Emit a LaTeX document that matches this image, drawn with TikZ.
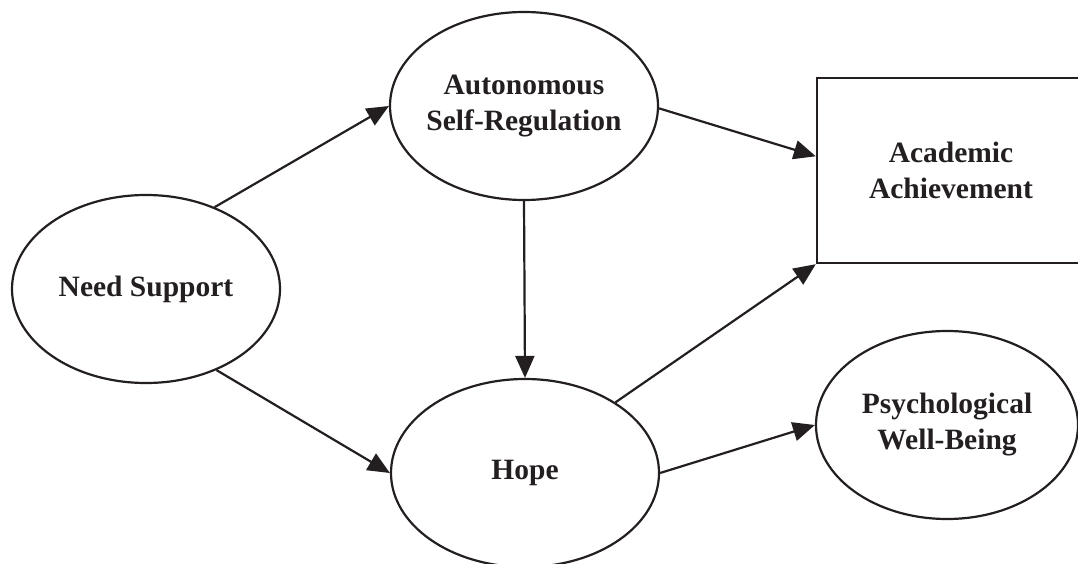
\documentclass[tikz,border=0pt]{standalone}
\usepackage{fontspec}
\setmainfont{Liberation Serif}
\usetikzlibrary{shapes.geometric,arrows.meta}
\definecolor{ink}{RGB}{35,31,32}
\begin{document}
\begin{tikzpicture}[x=1pt,y=-1pt,
  every node/.style={font=\fontsize{29.5}{36}\selectfont\bfseries, text=ink, align=center},
  latent/.style={ellipse, draw=ink, line width=2.2pt, inner sep=-12pt,
                 minimum width=268pt, minimum height=188pt},
  observed/.style={rectangle, draw=ink, line width=2.4pt, inner sep=0pt,
                   minimum width=268pt, minimum height=185pt},
  path/.style={draw=ink, line width=2.2pt, -{Triangle[length=22pt,width=19pt]}}]
  \useasboundingbox (0,0) rectangle (1078,564);

  \node[latent] (need) at (146,289) {Need Support};
  \node[latent] (auto) at (524,106) {Autonomous\\Self-Regulation};
  \node[latent] (hope) at (525,473) {Hope};
  \node[observed] (acad) at (951,170.5) {Academic\\Achievement};
  \node[latent, minimum width=262pt] (wellb) at (947,425) {Psychological\\Well-Being};

  \draw[path] (need.50) -- (auto.west);
  \draw[path] (need.-49) -- (hope.west);
  \draw[path] (auto.south) -- (hope.north);
  \draw[path] (auto.-1) -- (acad.174);
  \draw[path] (hope.38) -- (acad.south west);
  \draw[path] (hope.east) -- (wellb.west);
\end{tikzpicture}
\end{document}
